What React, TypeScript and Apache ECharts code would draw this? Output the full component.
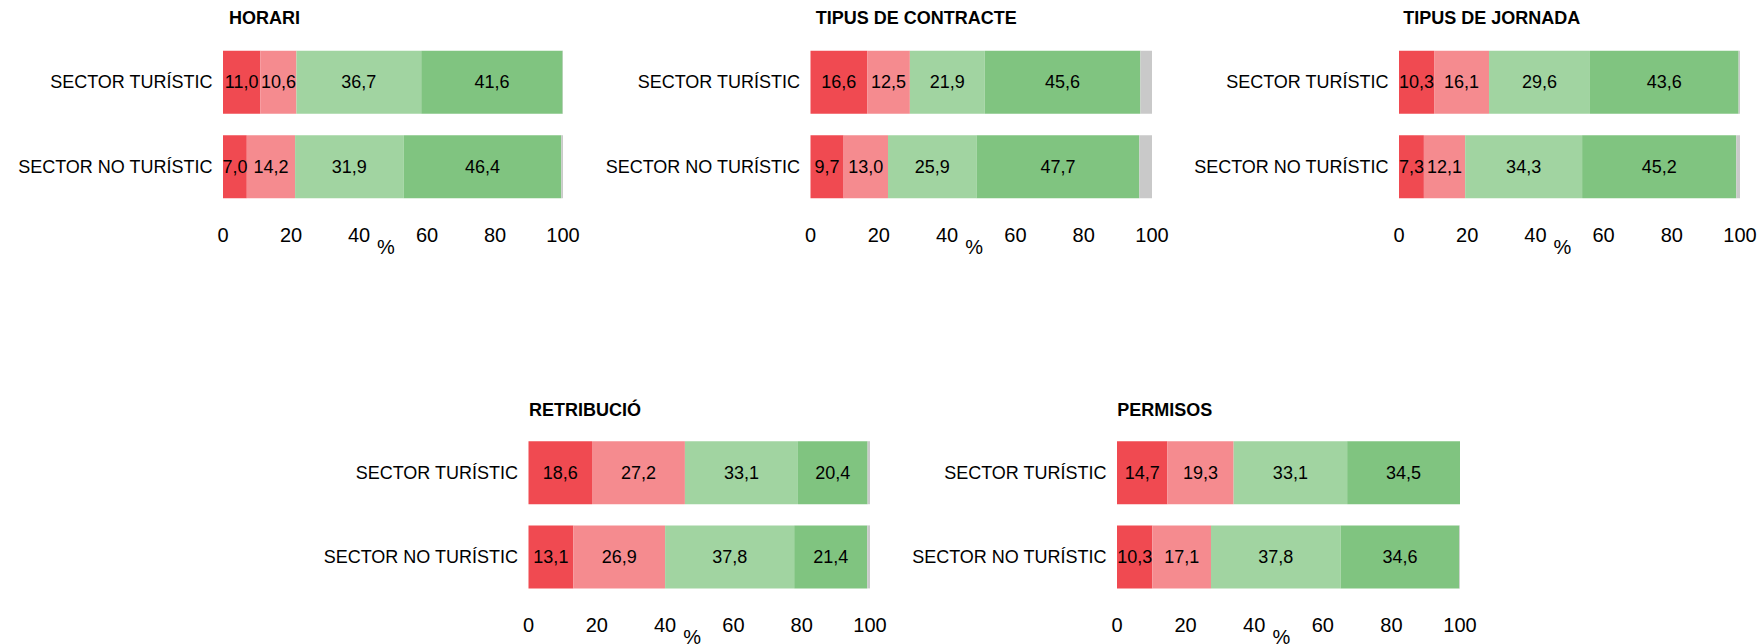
import React, { useEffect, useRef } from "react";
import * as echarts from "echarts";

const categories = ["SECTOR TURÍSTIC", "SECTOR NO TURÍSTIC"];
const panelTitles = ["HORARI", "TIPUS DE CONTRACTE", "TIPUS DE JORNADA", "RETRIBUCIÓ", "PERMISOS"];
const levelNames = ["Molt negatiu", "Negatiu", "Positiu", "Molt positiu", "NS/NC"];
const xTicks = [0, 20, 40, 60, 80, 100];

// values per row: [dark red, light red, light green, green, gray]
const horariTuristic = [11.0, 10.6, 36.7, 41.6, 0.3];
const horariNoTuristic = [7.0, 14.2, 31.9, 46.4, 0.5];
const contracteTuristic = [16.6, 12.5, 21.9, 45.6, 3.4];
const contracteNoTuristic = [9.7, 13.0, 25.9, 47.7, 3.8];
const jornadaTuristic = [10.3, 16.1, 29.6, 43.6, 0.4];
const jornadaNoTuristic = [7.3, 12.1, 34.3, 45.2, 1.1];
const retribucioTuristic = [18.6, 27.2, 33.1, 20.4, 0.9];
const retribucioNoTuristic = [13.1, 26.9, 37.8, 21.4, 0.9];
const permisosTuristic = [14.7, 19.3, 33.1, 34.5, 0];
const permisosNoTuristic = [10.3, 17.1, 37.8, 34.6, 1.0];

const panelRows = [
  [horariTuristic, horariNoTuristic],
  [contracteTuristic, contracteNoTuristic],
  [jornadaTuristic, jornadaNoTuristic],
  [retribucioTuristic, retribucioNoTuristic],
  [permisosTuristic, permisosNoTuristic],
];

const COLORS = ["#F04A51", "#F58B8F", "#A1D4A1", "#80C480", "#C9C9C9"];
const FONT = "'Liberation Sans', Arial, Helvetica, sans-serif";

const gridBoxes = [
  { left: 223, top: 40, width: 340, height: 169 },
  { left: 810.5, top: 40, width: 341.5, height: 169 },
  { left: 1399, top: 40, width: 341, height: 169 },
  { left: 528.5, top: 430.6, width: 341.5, height: 168.4 },
  { left: 1117, top: 430.6, width: 343, height: 168.4 },
];
const titlePos = [
  { left: 229, top: 9 },
  { left: 815.8, top: 9 },
  { left: 1403.3, top: 9 },
  { left: 529, top: 401 },
  { left: 1117.2, top: 401 },
];

const fmt = (v: number) => v.toFixed(1).replace(".", ",");

export default function App() {
  const ref = useRef<HTMLDivElement>(null);
  useEffect(() => {
    if (!ref.current) return;
    const chart = echarts.init(ref.current, null, { renderer: "svg" });
    const series: any[] = [];
    panelRows.forEach((rows, i) => {
      levelNames.forEach((name, j) => {
        series.push({
          type: "bar",
          name,
          xAxisIndex: i,
          yAxisIndex: i,
          stack: "p" + i,
          barWidth: 63,
          silent: true,
          itemStyle: { color: COLORS[j] },
          data: rows.map((r) => r[j]),
          label:
            j < 4
              ? {
                  show: true,
                  position: "inside",
                  formatter: (p: any) => fmt(p.value),
                  fontSize: 18,
                  color: "#000",
                  fontFamily: FONT,
                }
              : { show: false },
        });
      });
    });
    chart.setOption({
      animation: false,
      backgroundColor: "#fff",
      textStyle: { fontFamily: FONT },
      title: panelTitles.map((t, i) => ({
        text: t,
        left: titlePos[i].left,
        top: titlePos[i].top,
        padding: 0,
        textStyle: { fontSize: 18, fontWeight: "bold", color: "#000", fontFamily: FONT },
      })),
      grid: gridBoxes.map((g) => ({ ...g, containLabel: false, outerBoundsMode: "none" })),
      xAxis: gridBoxes.map((_, i) => ({
        type: "value",
        gridIndex: i,
        min: xTicks[0],
        max: xTicks[xTicks.length - 1],
        interval: 20,
        name: "%",
        nameLocation: "middle",
        nameGap: 28,
        nameMoveOverlap: false,
        nameTextStyle: { fontSize: 20, color: "#000", fontFamily: FONT, padding: [0, 14, 0, 0] },
        axisLine: { show: false },
        axisTick: { show: false },
        splitLine: { show: false },
        axisLabel: { fontSize: 20, color: "#000", margin: 16, fontFamily: FONT },
      })),
      yAxis: gridBoxes.map((_, i) => ({
        type: "category",
        gridIndex: i,
        data: categories,
        inverse: true,
        axisLine: { show: false },
        axisTick: { show: false },
        splitLine: { show: false },
        axisLabel: { fontSize: 18, color: "#000", margin: 10.5, fontFamily: FONT },
      })),
      series,
    });
    return () => chart.dispose();
  }, []);
  return (
    <div
      ref={ref}
      style={{ position: "absolute", left: 0, top: 0, width: 1760, height: 644 }}
    />
  );
}
